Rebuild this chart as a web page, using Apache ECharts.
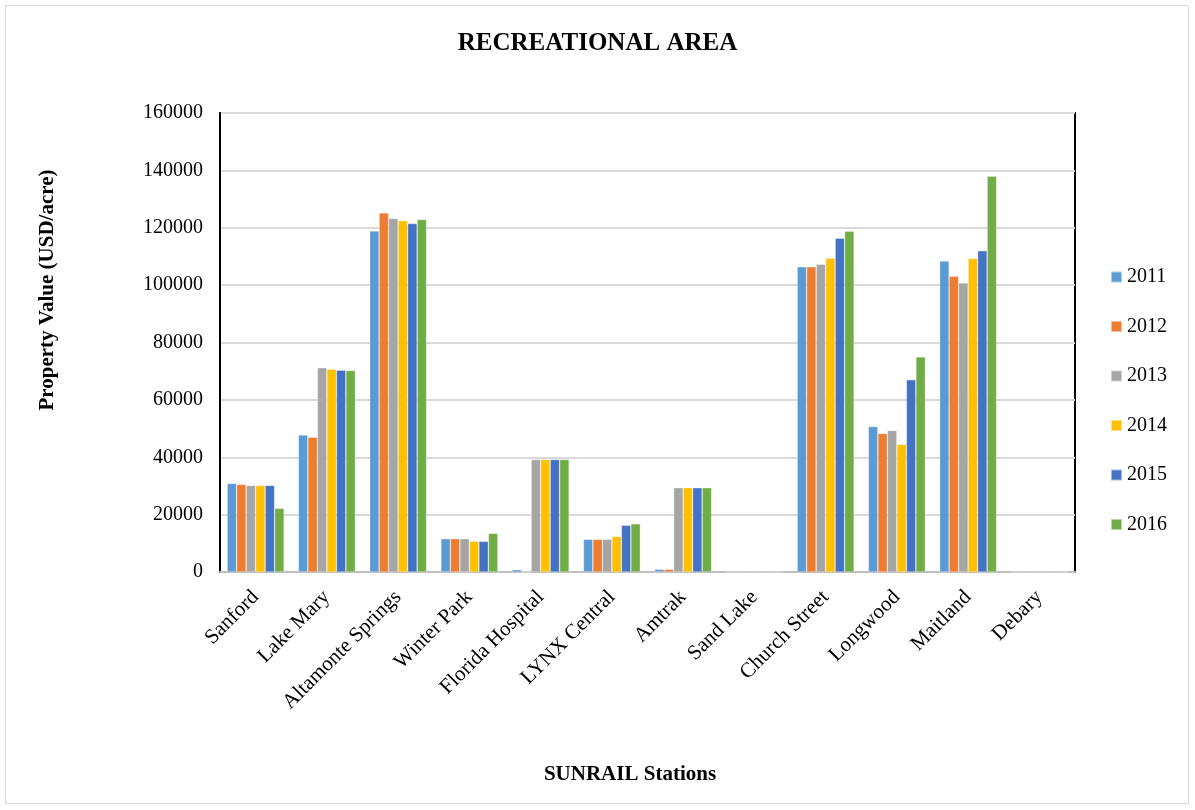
<!DOCTYPE html>
<html>
<head>
<meta charset="utf-8">
<script src="https://cdn.jsdelivr.net/npm/echarts@6/dist/echarts.min.js"></script>
<style>
html,body{margin:0;padding:0;background:#fff;}
#chart{width:1195px;height:810px;}
</style>
</head>
<body>
<div id="chart"></div>
<script>
const stations = ['Sanford','Lake Mary','Altamonte Springs','Winter Park','Florida Hospital','LYNX Central','Amtrak','Sand Lake','Church Street','Longwood','Maitland','Debary'];
const years = ['2011','2012','2013','2014','2015','2016'];
const v2011 = [30900, 47800, 118900, 11600, 800, 11400, 950, 0, 106400, 50700, 108400, 0];
const v2012 = [30550, 47000, 125200, 11600, 0, 11400, 950, 0, 106400, 48300, 103100, 0];
const v2013 = [30200, 71200, 123200, 11600, 39200, 11400, 29400, 0, 107300, 49300, 100800, 0];
const v2014 = [30200, 70700, 122500, 10700, 39200, 12400, 29400, 0, 109400, 44500, 109300, 0];
const v2015 = [30200, 70350, 121500, 10700, 39200, 16300, 29400, 0, 116400, 67000, 112000, 0];
const v2016 = [22200, 70250, 122900, 13500, 39200, 16800, 29400, 0, 118800, 75000, 138000, 0];
const yTicks = [0, 20000, 40000, 60000, 80000, 100000, 120000, 140000, 160000];
const colors = ['#5b9bd5','#ed7d31','#a5a5a5','#ffc000','#4472c4','#70ad47'];
const seriesValues = [v2011, v2012, v2013, v2014, v2015, v2016];

const font = '"Liberation Serif", "Times New Roman", serif';
const chart = echarts.init(document.getElementById('chart'), null, {renderer:'canvas'});
chart.setOption({
  animation: false,
  color: colors,
  textStyle: {fontFamily: font},
  title: {
    text: 'RECREATIONAL AREA',
    left: 'center', top: 26,
    textStyle: {fontFamily: font, fontSize: 25, fontWeight: 'bold', color: '#000'}
  },
  graphic: [{
    type: 'rect', shape: {x: 5.5, y: 5.5, width: 1183, height: 798},
    style: {fill: 'none', stroke: '#d9d9d9', lineWidth: 1}, z: -1
  }, {
    type: 'text', x: 48, y: 290, rotation: Math.PI / 2,
    style: {text: 'Property Value (USD/acre)', font: 'bold 21px ' + font, fill: '#000',
      textAlign: 'center', textVerticalAlign: 'middle'}
  }, {
    type: 'text', x: 630, y: 775,
    style: {text: 'SUNRAIL Stations', font: 'bold 21px ' + font, fill: '#000',
      textAlign: 'center', textVerticalAlign: 'middle'}
  }],
  legend: {
    orient: 'vertical',
    left: 1105, top: 262,
    itemWidth: 11, itemHeight: 11,
    itemGap: 29.5,
    icon: 'rect',
    textStyle: {fontFamily: font, fontSize: 20, color: '#000', lineHeight: 20}
  },
  grid: {
    left: 220, right: 120, top: 113, bottom: 238,
    show: true, borderColor: '#000', borderWidth: 2
  },
  xAxis: {
    type: 'category',
    data: stations,
    axisLine: {show: true, lineStyle: {color: '#bfbfbf', width: 2}},
    axisTick: {show: false},
    axisLabel: {rotate: 45, interval: 0, margin: 22, fontFamily: font, fontSize: 21, color: '#000'}
  },
  yAxis: {
    type: 'value',
    min: 0, max: 160000, interval: 20000,
    axisLine: {show: true, lineStyle: {color: '#000', width: 2}},
    axisTick: {show: false},
    axisLabel: {margin: 17, fontFamily: font, fontSize: 20, color: '#000',
      formatter: v => yTicks.includes(v) ? String(v) : ''},
    splitLine: {lineStyle: {color: '#d9d9d9', width: 2}}
  },
  series: years.map((y, i) => ({
    name: y,
    type: 'bar',
    data: seriesValues[i],
    barGap: '0%',
    barCategoryGap: '20%',
    itemStyle: {color: colors[i], borderColor: 'rgba(255,255,255,0.5)', borderWidth: 0.6}
  }))
});
</script>
</body>
</html>
